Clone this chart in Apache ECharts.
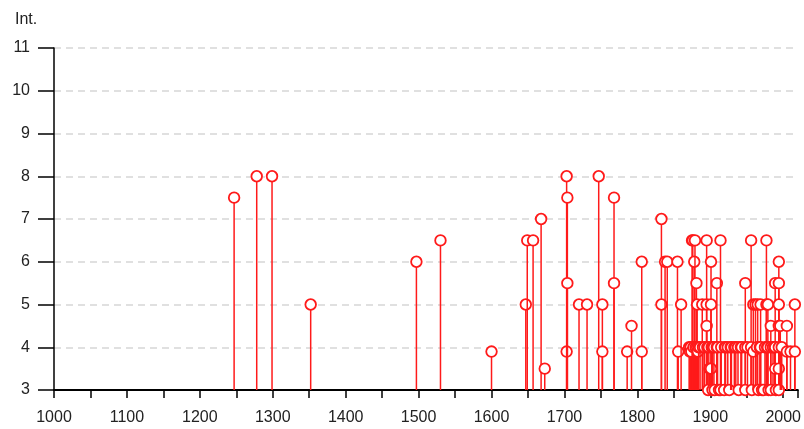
<!DOCTYPE html>
<html>
<head>
<meta charset="utf-8">
<script src="https://cdn.jsdelivr.net/npm/echarts@6/dist/echarts.min.js"></script>
<style>
html,body{margin:0;padding:0;background:#fff;}
#chart{width:804px;height:429px;}
</style>
</head>
<body>
<div id="chart"></div>
<script>
// Event years and intensities
var years = [
  1247, 1278, 1299, 1352, 1497, 1530, 1600,
  1647, 1649, 1657, 1668, 1673,
  1703, 1703, 1704, 1704, 1720, 1731, 1747, 1752, 1752,
  1768, 1768, 1786, 1792, 1806, 1806,
  1833, 1833, 1838, 1841, 1855, 1856, 1860,
  1871, 1872, 1873, 1874, 1875, 1876, 1877, 1878, 1879, 1880, 1881, 1882, 1882, 1883, 1884,
  1886, 1889, 1890, 1892, 1895, 1895, 1895, 1896, 1897, 1898, 1899,
  1901, 1901, 1901, 1902, 1903, 1903, 1905, 1906, 1909, 1909, 1910, 1912,
  1914, 1914, 1915, 1919, 1920, 1921, 1924, 1926, 1928, 1929, 1933, 1935, 1938, 1939,
  1942, 1943, 1948, 1948, 1948, 1951,
  1956, 1956, 1957, 1959, 1959, 1962, 1964, 1965, 1966, 1968, 1969, 1969, 1971, 1973,
  1975, 1977, 1977, 1978, 1979, 1979, 1980, 1983, 1983, 1983, 1986, 1988,
  1989, 1989, 1989, 1990,
  1994, 1994, 1994, 1994, 1994, 1994, 1994, 1996, 1998,
  2005, 2005, 2010, 2016, 2016
];
var intensity = [
  7.5, 8, 8, 5, 6, 6.5, 3.9,
  5, 6.5, 6.5, 7, 3.5,
  3.9, 8, 7.5, 5.5, 5, 5, 8, 5, 3.9,
  7.5, 5.5, 3.9, 4.5, 6, 3.9,
  7, 5, 6, 6, 6, 3.9, 5,
  4, 3.9, 4, 3.9, 6.5, 6.5, 4, 6, 6.5, 4, 5.5, 5, 4, 3.9, 4,
  4, 5, 4, 4, 6.5, 5, 4.5, 4, 3, 4, 3.5,
  6, 5, 3.5, 4, 3, 4, 4, 3, 5.5, 4, 4, 3,
  6.5, 3, 4, 3, 4, 4, 4, 3, 4, 4, 4, 4, 4, 3,
  4, 4, 5.5, 4, 3, 4,
  6.5, 4, 3, 5, 3.9, 5, 4, 5, 3, 4, 5, 4, 3, 3,
  4, 6.5, 5, 4, 5, 4, 3, 4.5, 4, 3, 4, 4,
  5.5, 4, 3.5, 3,
  6, 5.5, 5, 4.5, 4, 3.5, 3, 4.5, 4,
  4.5, 3.9, 3.9, 5, 3.9
];
var xTicks = [1000, 1100, 1200, 1300, 1400, 1500, 1600, 1700, 1800, 1900, 2000];
var yTicks = [3, 4, 5, 6, 7, 8, 9, 10, 11];

var data = years.map(function (y, i) { return [y, intensity[i]]; });
var font = '"Liberation Sans", Arial, sans-serif';

var chart = echarts.init(document.getElementById('chart'));
chart.setOption({
  animation: false,
  backgroundColor: '#ffffff',
  title: {
    text: 'Int.', left: 10, top: 7,
    textStyle: { fontFamily: font, fontSize: 16, fontWeight: 'normal', color: '#222' }
  },
  grid: { left: 54, right: 3, top: 48, bottom: 39 },
  xAxis: {
    type: 'value', min: 1000, max: 2020, interval: 50,
    axisLine: { show: true, onZero: false, lineStyle: { color: '#000', width: 2 } },
    axisTick: { show: true, length: 8, lineStyle: { color: '#000', width: 1.5 } },
    axisLabel: {
      margin: 20, fontFamily: font, fontSize: 16, color: '#222',
      formatter: function (v) { return xTicks.indexOf(v) >= 0 ? String(v) : ''; }
    },
    splitLine: { show: false }
  },
  yAxis: {
    type: 'value', min: yTicks[0], max: yTicks[yTicks.length - 1], interval: 1,
    axisLine: { show: true, onZero: false, lineStyle: { color: '#000', width: 1.5 } },
    axisTick: { show: true, length: 16, lineStyle: { color: '#000', width: 1.5 } },
    axisLabel: {
      margin: 24, fontFamily: font, fontSize: 16, color: '#222',
      verticalAlign: 'middle', padding: [0, 0, 11, 0]
    },
    splitLine: { show: true, lineStyle: { color: '#d6d6d6', width: 1.5, type: [7, 5] } }
  },
  series: [{
    type: 'custom',
    data: data,
    clip: false,
    renderItem: function (params, api) {
      var x = api.value(0), v = api.value(1);
      var base = api.coord([x, 3]);
      var top = api.coord([x, v]);
      return {
        type: 'group',
        children: [{
          type: 'line',
          shape: { x1: top[0], y1: top[1], x2: base[0], y2: base[1] },
          style: { stroke: '#ff1a1a', lineWidth: 1.5 }
        }, {
          type: 'circle',
          shape: { cx: top[0], cy: top[1], r: 5.3 },
          style: { fill: '#ffffff', stroke: '#ff1a1a', lineWidth: 1.8 }
        }]
      };
    }
  }]
});
</script>
</body>
</html>
